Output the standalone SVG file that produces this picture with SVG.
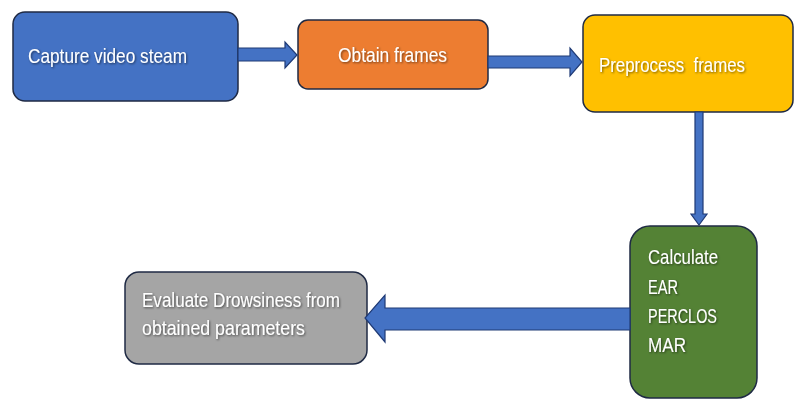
<svg xmlns="http://www.w3.org/2000/svg" width="794" height="400" viewBox="0 0 794 400">
  <defs>
    <filter id="glow" x="-10%" y="-30%" width="120%" height="160%">
      <feGaussianBlur in="SourceAlpha" stdDeviation="1.2" result="b"/>
      <feOffset in="b" dx="0.5" dy="0.8" result="o"/>
      <feFlood flood-color="#000" flood-opacity="0.55"/>
      <feComposite in2="o" operator="in" result="s"/>
      <feMerge><feMergeNode in="s"/><feMergeNode in="SourceGraphic"/></feMerge>
    </filter>
  </defs>
  <style>
    .box { stroke: #1f2a44; stroke-width: 1.5; }
    .lbl { font-family: "Liberation Sans Narrow", "Liberation Sans", Arial, sans-serif; font-size: 20px; fill: #ffffff; filter: url(#glow); }
    .arrow { fill: #4472c4; stroke: #1f3a75; stroke-width: 1.2; stroke-linejoin: miter; }
  </style>
  <rect width="794" height="400" fill="#ffffff"/>

  <g id="capture">
    <rect class="box" x="13" y="12" width="225" height="89" rx="12" fill="#4472c4"/>
    <text class="lbl" x="28" y="63" textLength="159" lengthAdjust="spacingAndGlyphs">Capture video steam</text>
  </g>

  <g id="obtain">
    <rect class="box" x="298" y="20" width="190" height="69" rx="10" fill="#ed7d31"/>
    <text class="lbl" x="338" y="62" textLength="109" lengthAdjust="spacingAndGlyphs">Obtain frames</text>
  </g>

  <g id="preprocess">
    <rect class="box" x="583" y="15" width="210" height="97" rx="12" fill="#ffc000"/>
    <text class="lbl" x="599" y="72" textLength="146" lengthAdjust="spacingAndGlyphs" xml:space="preserve">Preprocess  frames</text>
  </g>

  <g id="calculate">
    <rect class="box" x="630" y="226" width="127" height="172" rx="20" fill="#548235"/>
    <text class="lbl" x="648" y="264" textLength="70" lengthAdjust="spacingAndGlyphs">Calculate</text>
    <text class="lbl" x="648" y="294" textLength="30" lengthAdjust="spacingAndGlyphs">EAR</text>
    <text class="lbl" x="648" y="323" textLength="69" lengthAdjust="spacingAndGlyphs">PERCLOS</text>
    <text class="lbl" x="648" y="352" textLength="38" lengthAdjust="spacingAndGlyphs">MAR</text>
  </g>

  <g id="evaluate">
    <rect class="box" x="125" y="272" width="242" height="92" rx="14" fill="#a5a5a5"/>
    <text class="lbl" x="142" y="307" textLength="198" lengthAdjust="spacingAndGlyphs">Evaluate Drowsiness from</text>
    <text class="lbl" x="142" y="335" textLength="163" lengthAdjust="spacingAndGlyphs">obtained parameters</text>
  </g>

  <g id="connectors">
    <polygon class="arrow" points="238,48 285,48 285,42 297,55 285,68 285,61 238,61"/>
    <polygon class="arrow" points="488,56 570,56 570,48 582,62 570,76 570,68 488,68"/>
    <polygon class="arrow" points="695,112 703,112 703,214 707,214 699,225 691,214 695,214"/>
    <polygon class="arrow" points="630,308 385,308 385,295 365,318 385,342 385,330 630,330"/>
  </g>
</svg>
